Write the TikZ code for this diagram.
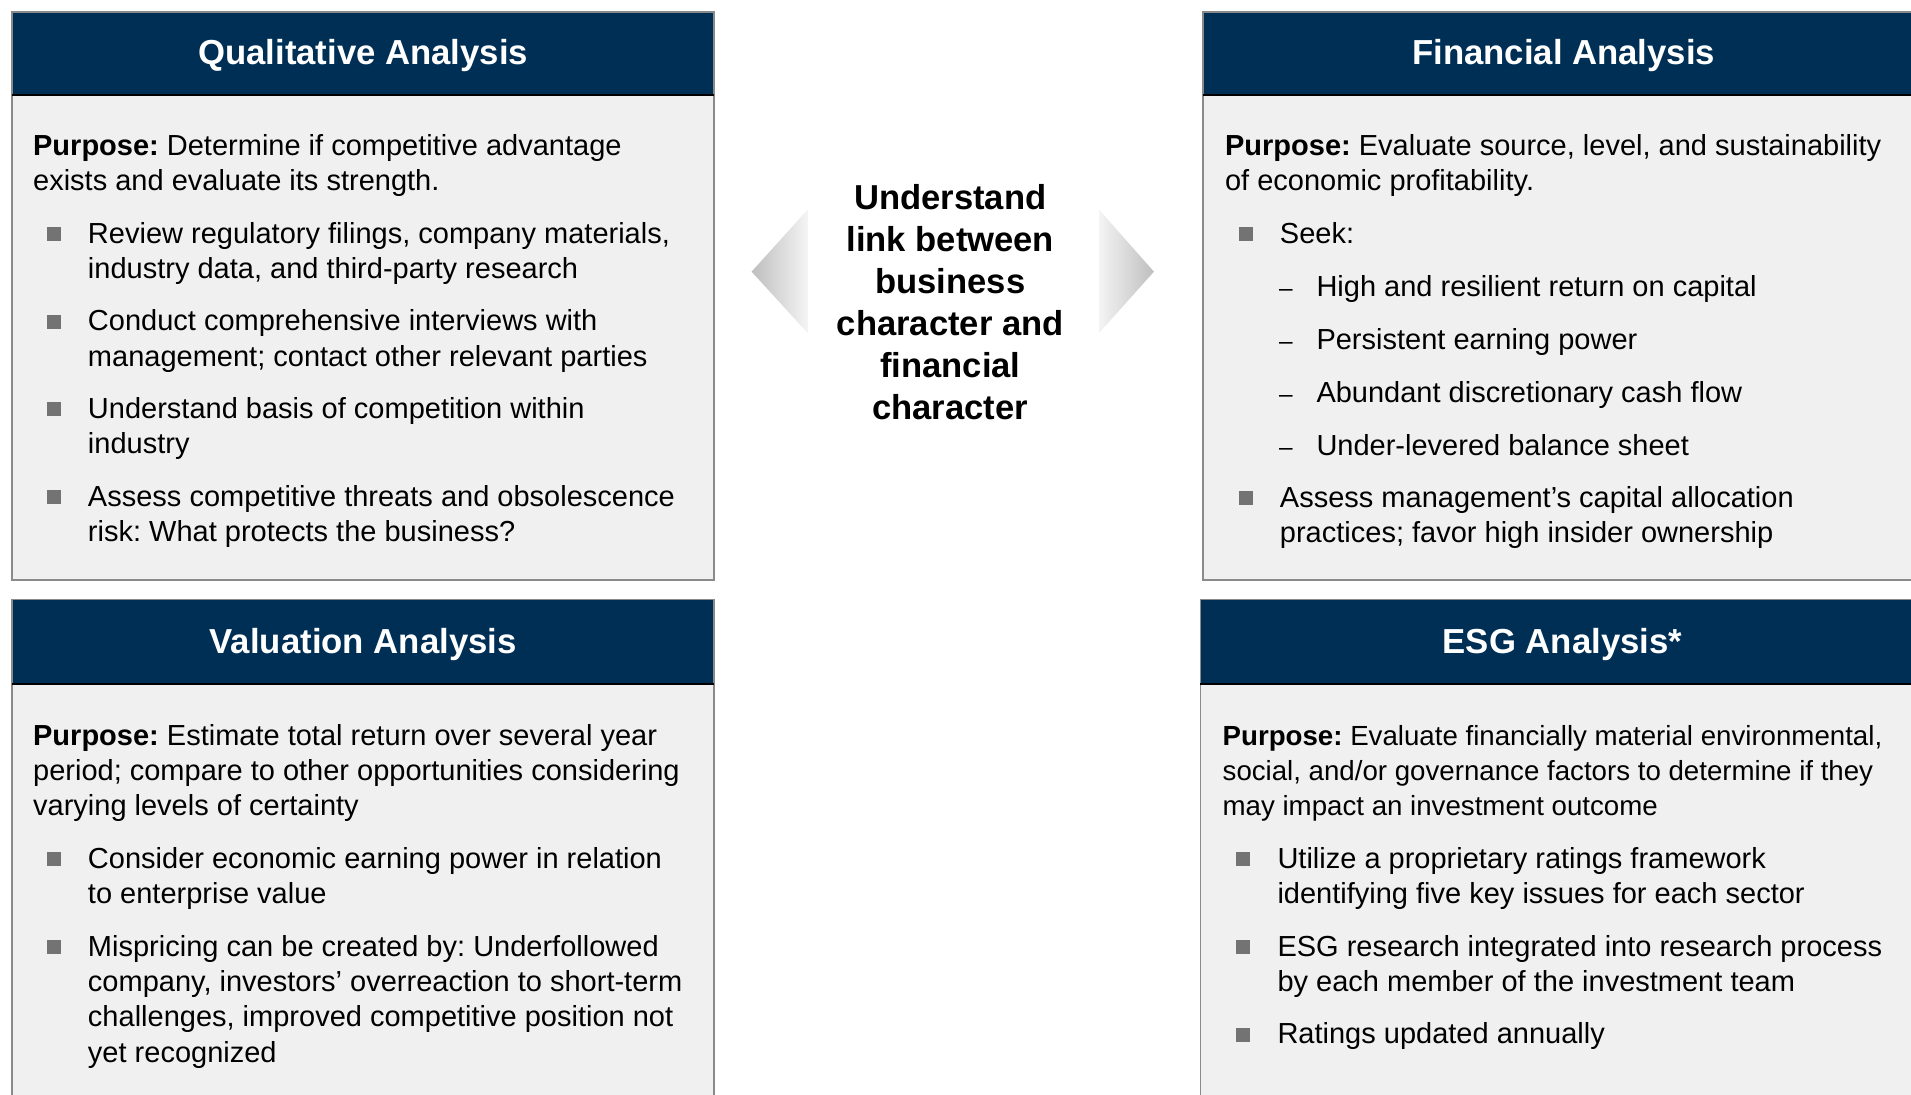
\documentclass[tikz,border=0pt]{standalone}
\usepackage{fontspec}
\setmainfont{Liberation Sans}
\frenchspacing
\definecolor{navy}{HTML}{002F56}
\definecolor{panel}{HTML}{EFF0EF}
\definecolor{edge}{HTML}{8A8A8A}
\definecolor{bul}{HTML}{737373}
\definecolor{arrdark}{HTML}{BEBEBE}
\definecolor{arrlight}{HTML}{F4F4F4}
\tikzset{
  panelbox/.style={fill=panel, draw=edge, line width=1.2pt},
  hdrbox/.style={fill=navy, draw=edge, line width=1.2pt},
  hdrline/.style={draw=black, line width=2pt},
  title/.style={text=white, anchor=base, inner sep=0pt, font=\fontsize{28.5}{34}\selectfont\bfseries},
  body/.style={anchor=base west, align=left, inner sep=0pt, font=\fontsize{23.8}{29}\selectfont},
  bodysmall/.style={body, font=\fontsize{22.7}{29}\selectfont},
  sq/.style={fill=bul, minimum size=11.5pt, inner sep=0pt, draw=none},
  dashmark/.style={anchor=base, inner sep=0pt, font=\fontsize{20}{24}\selectfont},
  centre/.style={anchor=base, align=center, inner sep=0pt, font=\fontsize{28.4}{34.46}\selectfont\bfseries}
}
\begin{document}
\begin{tikzpicture}[x=1pt,y=-1pt]
\useasboundingbox (0,0) rectangle (1568,898.4);
\clip (0,0) rectangle (1568,898.4);

% ---------- Qualitative ----------
\path[panelbox] (10,10) rectangle (586,476);
\path[hdrbox] (10,10) rectangle (586,78);
\draw[hdrline] (10,78) -- (586,78);
\node[title] (qtitle) at (298,53) {Qualitative Analysis};
\node[body] (qpurp) at (27,156.5) {\textbf{Purpose:} Determine if competitive advantage\\exists and evaluate its strength.};
\node[sq] (qs1) at (44,191.9) {};
\node[body] (qt1) at (72,228.5) {Review regulatory filings, company materials,\\industry data, and third-party research};
\node[sq] (qs2) at (44,263.9) {};
\node[body] (qt2) at (72,300.5) {Conduct comprehensive interviews with\\management; contact other relevant parties};
\node[sq] (qs3) at (44,335.9) {};
\node[body] (qt3) at (72,372.5) {Understand basis of competition within\\industry};
\node[sq] (qs4) at (44,407.9) {};
\node[body] (qt4) at (72,444.5) {Assess competitive threats and obsolescence\\risk: What protects the business?};

% ---------- Valuation ----------
\path[panelbox] (10,492) rectangle (586,920);
\path[hdrbox] (10,492) rectangle (586,561);
\draw[hdrline] (10,561) -- (586,561);
\node[title] (vtitle) at (298,536) {Valuation Analysis};
\node[body] (vpurp) at (27,669.5) {\textbf{Purpose:} Estimate total return over several year\\period; compare to other opportunities considering\\varying levels of certainty};
\node[sq] (vs1) at (44,704.9) {};
\node[body] (vt1) at (72,741.5) {Consider economic earning power in relation\\to enterprise value};
\node[sq] (vs2) at (44,776.9) {};
\node[body] (vt2) at (72,871.5) {Mispricing can be created by: Underfollowed\\company, investors’ overreaction to short-term\\challenges, improved competitive position not\\yet recognized};

% ---------- Financial ----------
\path[panelbox] (987,10) rectangle (1580,476);
\path[hdrbox] (987,10) rectangle (1580,78);
\draw[hdrline] (987,78) -- (1580,78);
\node[title] (ftitle) at (1283,53) {Financial Analysis};
\node[body] (fpurp) at (1005,156.5) {\textbf{Purpose:} Evaluate source, level, and sustainability\\of economic profitability.};
\node[sq] (fs1) at (1022,191.9) {};
\node[body] (ft1) at (1050,199.5) {Seek:};
\node[dashmark] (fd1) at (1055,243) {–};
\node[body] (fu1) at (1080,243) {High and resilient return on capital};
\node[dashmark] (fd2) at (1055,286.5) {–};
\node[body] (fu2) at (1080,286.5) {Persistent earning power};
\node[dashmark] (fd3) at (1055,330) {–};
\node[body] (fu3) at (1080,330) {Abundant discretionary cash flow};
\node[dashmark] (fd4) at (1055,373.5) {–};
\node[body] (fu4) at (1080,373.5) {Under-levered balance sheet};
\node[sq] (fs2) at (1022,408.4) {};
\node[body] (ft2) at (1050,445) {Assess management’s capital allocation\\practices; favor high insider ownership};

% ---------- ESG ----------
\path[panelbox] (985,492) rectangle (1580,920);
\path[hdrbox] (985,492) rectangle (1580,561);
\draw[hdrline] (985,561) -- (1580,561);
\node[title] (etitle) at (1282,536) {ESG Analysis*};
\node[bodysmall] (epurp) at (1003,669.5) {\textbf{Purpose:} Evaluate financially material environmental,\\social, and/or governance factors to determine if they\\may impact an investment outcome};
\node[sq] (es1) at (1020,704.9) {};
\node[body] (et1) at (1048,741.5) {Utilize a proprietary ratings framework\\identifying five key issues for each sector};
\node[sq] (es2) at (1020,776.9) {};
\node[body] (et2) at (1048,813.5) {ESG research integrated into research process\\by each member of the investment team};
\node[sq] (es3) at (1020,848.9) {};
\node[body] (et3) at (1048,856.5) {Ratings updated annually};

% ---------- centre ----------
\shade[left color=arrdark, right color=arrlight] (616.7,222.9) -- (662.4,172.3) -- (662.4,273) -- cycle;
\shade[left color=arrlight, right color=arrdark] (902,172.3) -- (946.8,222.9) -- (902,273) -- cycle;
\node[centre] (link) at (779.7,344.6) {Understand\\link between\\business\\character and\\financial\\character};
\end{tikzpicture}
\end{document}
